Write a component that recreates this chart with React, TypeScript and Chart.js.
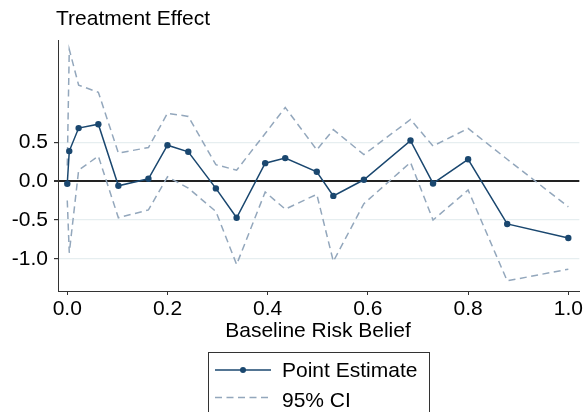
import React, { useEffect, useRef } from "react";
import { Chart, registerables } from "chart.js";

Chart.register(...registerables);

const xValues = [0.0, 0.004, 0.0227, 0.062, 0.102, 0.162, 0.2, 0.2415, 0.2966, 0.338, 0.395, 0.435, 0.498, 0.531, 0.592, 0.685, 0.73, 0.8, 0.878, 1.0];
const pointEstimate = [-0.034, 0.385, 0.68, 0.73, -0.06, 0.03, 0.46, 0.376, -0.094, -0.47, 0.23, 0.295, 0.12, -0.19, 0.017, 0.52, -0.03, 0.28, -0.55, -0.73];
const ciUpper = [0.2, 1.69, 1.23, 1.14, 0.36, 0.43, 0.87, 0.83, 0.21, 0.14, 0.61, 0.945, 0.4, 0.66, 0.34, 0.79, 0.45, 0.675, 0.28, -0.33];
const ciLower = [-0.25, -0.92, 0.14, 0.32, -0.47, -0.37, 0.055, -0.09, -0.39, -1.07, -0.14, -0.36, -0.17, -1.03, -0.29, 0.24, -0.5, -0.115, -1.28, -1.13];

const xTicks = [0, 0.2, 0.4, 0.6, 0.8, 1.0];
const yTicks = [-1.0, -0.5, 0, 0.5];

const titleText = "Treatment Effect";
const xTitleText = "Baseline Risk Belief";
const legendLabels = ["Point Estimate", "95% CI"];

const NAVY = "#1a476f";
const CI_COLOR = "#93a7bc";
const FONT = '"Liberation Sans", Arial, sans-serif';

const textPlugin = {
  id: "textPlugin",
  afterDraw(chart: any) {
    const ctx = chart.ctx;
    ctx.save();
    ctx.fillStyle = "#000";
    ctx.font = `21px ${FONT}`;
    ctx.textBaseline = "alphabetic";
    ctx.textAlign = "left";
    ctx.fillText(titleText, 56, 25);
    ctx.textAlign = "center";
    const area = chart.chartArea;
    ctx.fillText(xTitleText, 318, 337);

    // legend
    ctx.strokeStyle = "#333";
    ctx.lineWidth = 1;
    ctx.strokeRect(208.5, 352.5, 221, 80);
    ctx.strokeStyle = NAVY;
    ctx.lineWidth = 1.5;
    ctx.beginPath();
    ctx.moveTo(215, 370);
    ctx.lineTo(271, 370);
    ctx.stroke();
    ctx.fillStyle = NAVY;
    ctx.beginPath();
    ctx.arc(243, 370, 3, 0, Math.PI * 2);
    ctx.fill();
    ctx.strokeStyle = CI_COLOR;
    ctx.setLineDash([7, 4.5]);
    ctx.beginPath();
    ctx.moveTo(215, 397.5);
    ctx.lineTo(271, 397.5);
    ctx.stroke();
    ctx.setLineDash([]);
    ctx.fillStyle = "#000";
    ctx.textAlign = "left";
    ctx.fillText(legendLabels[0], 282, 377);
    ctx.fillText(legendLabels[1], 282, 407);
    ctx.restore();
  },
};

export default function App() {
  const ref = useRef<HTMLCanvasElement | null>(null);
  useEffect(() => {
    if (!ref.current) return;
    const toPts = (ys: number[]) => ys.map((y, i) => ({ x: xValues[i], y }));
    const chart = new Chart(ref.current, {
      type: "line",
      data: {
        datasets: [
          {
            label: legendLabels[0],
            data: toPts(pointEstimate),
            borderColor: NAVY,
            backgroundColor: NAVY,
            borderWidth: 1.5,
            pointRadius: 3.2,
            pointBorderWidth: 0,
            pointBackgroundColor: NAVY,
            tension: 0,
          },
          {
            label: "Upper",
            data: toPts(ciUpper),
            borderColor: CI_COLOR,
            borderWidth: 1.5,
            borderDash: [7, 4.5],
            pointRadius: 0,
            tension: 0,
          },
          {
            label: "Lower",
            data: toPts(ciLower),
            borderColor: CI_COLOR,
            borderWidth: 1.5,
            borderDash: [7, 4.5],
            pointRadius: 0,
            tension: 0,
          },
        ],
      },
      options: {
        responsive: false,
        animation: false,
        layout: { padding: { top: 40, right: 4, left: 0, bottom: 0 } },
        plugins: {
          legend: { display: false },
          title: { display: false },
          tooltip: { enabled: false },
        },
        scales: {
          x: {
            type: "linear",
            min: -0.0185,
            max: 1.022,
            afterBuildTicks: (scale: any) => {
              scale.ticks = xTicks.map((v) => ({ value: v }));
            },
            afterFit: (scale: any) => {
              scale.height = 121;
            },
            ticks: {
              font: { size: 21, family: FONT },
              color: "#000",
              padding: 2,
              maxRotation: 0,
              autoSkip: false,
              callback: (v: any) => Number(v).toFixed(1),
            },
            grid: {
              drawOnChartArea: false,
              drawTicks: true,
              tickLength: 4,
              tickColor: "#333",
            },
            border: { display: true, color: "#333", width: 1 },
          },
          y: {
            type: "linear",
            min: -1.41,
            max: 1.81,
            afterBuildTicks: (scale: any) => {
              scale.ticks = yTicks.map((v) => ({ value: v }));
            },
            afterFit: (scale: any) => {
              scale.width = 58;
            },
            ticks: {
              font: { size: 21, family: FONT },
              color: "#000",
              padding: 6,
              callback: (v: any) => Number(v).toFixed(1),
            },
            grid: {
              color: (c: any) => (c.tick && c.tick.value === 0 ? "#222" : "#e6eef0"),
              lineWidth: (c: any) => (c.tick && c.tick.value === 0 ? 2 : 1.2),
              drawTicks: true,
              tickLength: 4,
              tickColor: "#333",
            },
            border: { display: true, color: "#333", width: 1 },
          },
        },
      },
      plugins: [textPlugin],
    });
    return () => chart.destroy();
  }, []);
  return (
    <div style={{ position: "absolute", left: 0, top: 0, width: 585, height: 412 }}>
      <canvas ref={ref} width={585} height={412} />
    </div>
  );
}
